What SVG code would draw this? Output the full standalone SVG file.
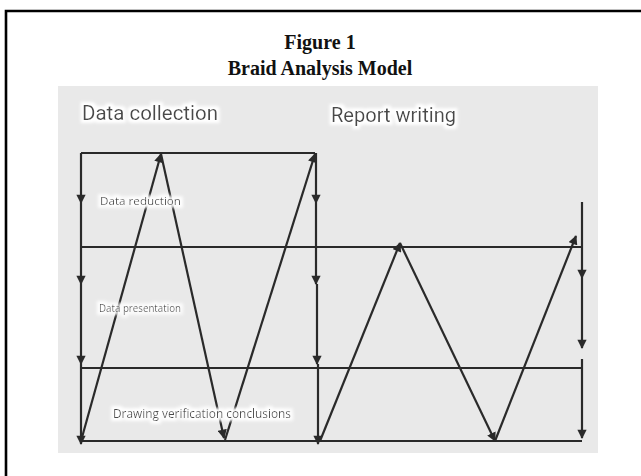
<svg xmlns="http://www.w3.org/2000/svg" width="641" height="476" viewBox="0 0 641 476">
<defs>
<style>
.title{font-family:"Liberation Serif","Times New Roman",serif;font-weight:bold;font-size:20px;fill:#111;text-anchor:middle}
.big{font-family:Roboto,"Liberation Sans",sans-serif;font-size:20px;fill:#484848}
.small{font-family:"Open Sans","DejaVu Sans",sans-serif;fill:#4a4a4a}
.ln{stroke:#2a2a2a;stroke-width:2.2;fill:none}
.ar{stroke:#2a2a2a;stroke-width:2.2;fill:none;marker-end:url(#ah)}
</style>
<marker id="ah" viewBox="0 0 10 10" refX="9" refY="5" markerWidth="4.5" markerHeight="4.2" orient="auto" markerUnits="strokeWidth">
<path d="M0,0 L10,5 L0,10 Z" fill="#2a2a2a"/>
</marker>
<filter id="halo" x="-10%" y="-40%" width="120%" height="180%">
<feMorphology in="SourceAlpha" operator="dilate" radius="2.5" result="d"/>
<feGaussianBlur in="d" stdDeviation="1.5" result="b"/>
<feFlood flood-color="#ffffff"/>
<feComposite in2="b" operator="in" result="w"/>
<feMerge><feMergeNode in="w"/><feMergeNode in="SourceGraphic"/></feMerge>
</filter>
</defs>
<rect x="0" y="0" width="641" height="476" fill="#ffffff"/>
<path d="M6,476 V11 H641" fill="none" stroke="#000" stroke-width="2.6"/>
<g id="title">
<text class="title" x="320" y="49">Figure 1</text>
<text class="title" x="320" y="75">Braid Analysis Model</text>
</g>
<rect id="panel" x="58" y="86" width="540" height="367" fill="#e9e9e9"/>
<g id="headers" filter="url(#halo)">
<text class="big" x="82" y="120" textLength="136" lengthAdjust="spacingAndGlyphs">Data collection</text>
<text class="big" x="331" y="122" textLength="125" lengthAdjust="spacingAndGlyphs">Report writing</text>
</g>
<g id="connectors">
<path class="ln" d="M81,153 H315"/>
<path class="ln" d="M81,247 H582"/>
<path class="ln" d="M81,368 H582"/>
<path class="ln" d="M81,441 H582"/>
<path class="ar" d="M81,153 V203"/>
<path class="ar" d="M81,203 V284"/>
<path class="ar" d="M81,284 V364"/>
<path class="ar" d="M81,364 V444"/>
<path class="ar" d="M316,153 V203"/>
<path class="ar" d="M316,203 V284"/>
<path class="ar" d="M317,284 V364"/>
<path class="ar" d="M318,364 V444"/>
<path class="ar" d="M582,202 V278"/>
<path class="ar" d="M582,278 V348"/>
<path class="ar" d="M582,359 V438"/>
<path class="ar" d="M81,441 L161,154"/>
<path class="ar" d="M161,154 L224,438"/>
<path class="ar" d="M225,440 L315,154"/>
<path class="ar" d="M320,441 L400,243"/>
<path class="ar" d="M400,243 L495,441"/>
<path class="ar" d="M495,441 L576,236"/>
</g>
<g id="labels" filter="url(#halo)">
<text class="small" x="100" y="205" font-size="11.5" textLength="81" lengthAdjust="spacingAndGlyphs">Data reduction</text>
<text class="small" x="99" y="312" font-size="10" textLength="82" lengthAdjust="spacingAndGlyphs">Data presentation</text>
<text class="small" x="113" y="418" font-size="12.5" textLength="178" lengthAdjust="spacingAndGlyphs">Drawing verification conclusions</text>
</g>
</svg>
